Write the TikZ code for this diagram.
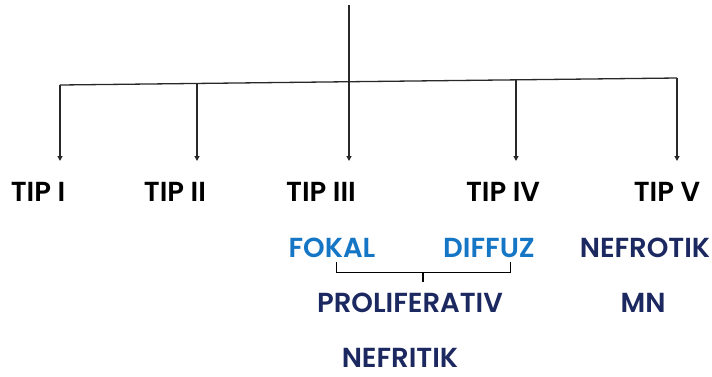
\documentclass[tikz,border=0pt]{standalone}
\usepackage{fontspec}
\setmainfont{Poppins}[UprightFont=* SemiBold, BoldFont=* Bold]
\usetikzlibrary{arrows.meta}
\definecolor{navy}{RGB}{28,40,96}
\definecolor{lblue}{RGB}{20,118,196}
\definecolor{ln}{RGB}{40,40,40}
\begin{document}
\begin{tikzpicture}[x=1pt,y=-1pt,
  conn/.style={draw=ln,line width=1.3pt},
  arr/.style={conn,-{Triangle[length=5pt,width=5pt]}},
  tip/.style={font=\fontsize{27.5}{30}\selectfont,text=black,inner sep=0pt},
  blu/.style={font=\fontsize{27.5}{30}\selectfont,text=lblue,inner sep=0pt},
  nav/.style={font=\fontsize{27.5}{30}\selectfont,text=navy,inner sep=0pt}]
\useasboundingbox (0,0) rectangle (712,376);
\fill[white] (0,0) rectangle (712,376);
% hub coordinates
\coordinate (top) at (349,5);
\coordinate (hL) at (60,85);
\coordinate (hR) at (677,78);
\coordinate (h2) at (197,84);
\coordinate (h4) at (516,79);
% labels
\node[tip] (t1) at (38,192) {TIP I};
\node[tip] (t2) at (175,192) {TIP II};
\node[tip] (t3) at (321,192) {TIP III};
\node[tip] (t4) at (503,192) {TIP IV};
\node[tip] (t5) at (667,192) {TIP V};
\coordinate (e1) at (60,161);
\coordinate (e2) at (197,161);
\coordinate (e3) at (349,161);
\coordinate (e4) at (516,161);
\coordinate (e5) at (677,161);
\draw[conn] (hL) -- (hR);
\draw[arr] (top) -- (e3);
\draw[arr] (hL) -- (e1);
\draw[arr] (h2) -- (e2);
\draw[arr] (h4) -- (e4);
\draw[arr] (hR) -- (e5);
% sub labels
\node[blu] (fok) at (332,248) {FOKAL};
\node[blu] (dif) at (489,248) {DIFFUZ};
\node[nav] (pro) at (410,303) {PROLIFERATIV};
\node[nav] (nef) at (400,358) {NEFRITIK};
\node[nav] (nro) at (645,248) {NEFROTIK};
\node[nav] (mn) at (643,303) {MN};
% bracket
\coordinate (b1) at (336,262);
\coordinate (b2) at (510,262);
\coordinate (bm) at (423,272);
\coordinate (bt) at (423,282);
\draw[draw=black,line width=1pt] (b1) -- (336,272) -- (510,272) -- (b2);
\draw[draw=black,line width=1.3pt] (bm) -- (bt);
\end{tikzpicture}
\end{document}
